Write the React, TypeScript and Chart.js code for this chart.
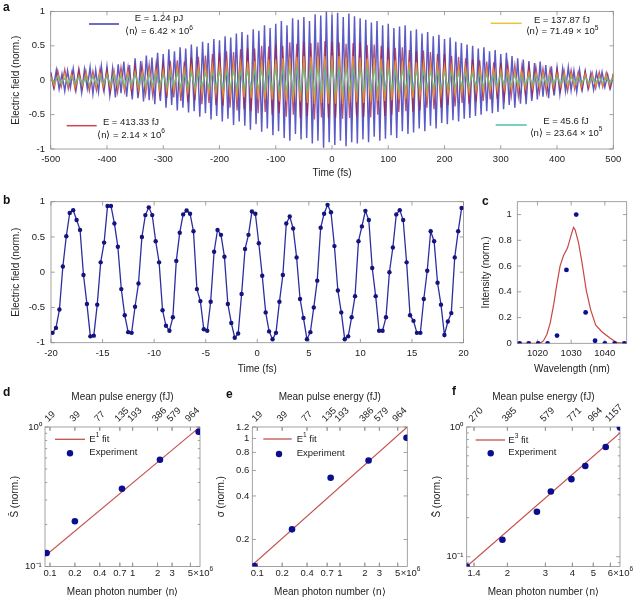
import React, { useEffect, useRef } from 'react';
import { Chart, registerables } from 'chart.js';

Chart.register(...registerables);

const FONT = '"Liberation Sans", Arial, Helvetica, sans-serif';
Chart.defaults.font.family = FONT;
Chart.defaults.color = '#222';

// ---------------- Panel a : electric field traces ----------------
const A_T0 = -500;
const A_BLUE_DT = 5;
const A_BLUE = [
  0.12, -0.10, 0.15, -0.13, 0.09, -0.16, 0.14, -0.11, 0.17, -0.14,
  0.13, -0.18, 0.16, -0.12, 0.19, -0.20, 0.15, -0.17, 0.21, -0.15,
  0.20, -0.22, 0.17, -0.25, 0.23, -0.19, 0.27, -0.24, 0.22, -0.28,
  0.32, -0.26, 0.28, -0.31, 0.36, -0.29, 0.33, -0.35, 0.40, -0.30,
  0.38, -0.40, 0.45, -0.36, 0.42, -0.44, 0.48, -0.40, 0.46, -0.47,
  0.52, -0.45, 0.49, -0.53, 0.56, -0.48, 0.54, -0.57, 0.60, -0.52,
  0.58, -0.60, 0.64, -0.56, 0.62, -0.65, 0.68, -0.60, 0.70, -0.66,
  0.66, -0.72, 0.74, -0.64, 0.72, -0.75, 0.80, -0.70, 0.76, -0.80,
  0.82, -0.74, 0.86, -0.84, 0.80, -0.88, 0.90, -0.78, 0.88, -0.86,
  0.92, -0.84, 0.86, -0.92, 0.96, -0.88, 0.94, -0.98, 1.00, -0.90,
  0.95, -0.94, 0.98, -0.88, 0.92, -0.96, 0.97, -0.90, 0.93, -0.92,
  0.90, -0.86, 0.88, -0.90, 0.84, -0.82, 0.86, -0.88, 0.80, -0.85,
  0.82, -0.80, 0.76, -0.84, 0.78, -0.74, 0.80, -0.78, 0.72, -0.76,
  0.74, -0.70, 0.68, -0.74, 0.70, -0.66, 0.64, -0.70, 0.66, -0.62,
  0.60, -0.64, 0.62, -0.58, 0.56, -0.60, 0.54, -0.56, 0.52, -0.55,
  0.50, -0.52, 0.46, -0.50, 0.48, -0.45, 0.42, -0.48, 0.44, -0.46,
  0.38, -0.42, 0.40, -0.36, 0.35, -0.40, 0.32, -0.34, 0.30, -0.35,
  0.28, -0.30, 0.25, -0.28, 0.27, -0.24, 0.22, -0.26, 0.20, -0.22,
  0.18, -0.20, 0.17, -0.16, 0.19, -0.15, 0.14, -0.17, 0.15, -0.13,
  0.13, -0.12, 0.10, -0.14, 0.11, -0.09, 0.12, -0.10, 0.08, -0.11,
  0.07,
];
const A_OTHER_DT = 6.25;
const A_RED = [
  0.10, -0.12, 0.14, -0.10, 0.16, -0.13, 0.12, -0.15, 0.17, -0.12, 0.14, -0.16, 0.13, -0.15, 0.16, -0.14,
  0.15, -0.17, 0.14, -0.18, 0.19, -0.16, 0.20, -0.18, 0.21, -0.19, 0.22, -0.20, 0.23, -0.22, 0.25, -0.21,
  0.24, -0.26, 0.28, -0.25, 0.29, -0.30, 0.27, -0.32, 0.33, -0.29, 0.34, -0.35, 0.36, -0.33, 0.38, -0.36,
  0.40, -0.37, 0.42, -0.40, 0.41, -0.44, 0.45, -0.42, 0.47, -0.45, 0.46, -0.48, 0.50, -0.46, 0.49, -0.50,
  0.52, -0.48, 0.50, -0.53, 0.55, -0.50, 0.53, -0.55, 0.56, -0.52, 0.54, -0.57, 0.55, -0.54, 0.57, -0.55,
  0.56, -0.54, 0.55, -0.56, 0.53, -0.55, 0.54, -0.52, 0.55, -0.53, 0.51, -0.54, 0.52, -0.50, 0.50, -0.52,
  0.48, -0.50, 0.47, -0.46, 0.48, -0.45, 0.44, -0.46, 0.42, -0.44, 0.43, -0.40, 0.41, -0.42, 0.38, -0.40,
  0.38, -0.36, 0.35, -0.38, 0.34, -0.33, 0.32, -0.34, 0.30, -0.31, 0.29, -0.30, 0.27, -0.28, 0.26, -0.27,
  0.25, -0.26, 0.24, -0.23, 0.22, -0.24, 0.21, -0.20, 0.20, -0.21, 0.19, -0.18, 0.17, -0.19, 0.16, -0.17,
  0.16, -0.15, 0.14, -0.16, 0.15, -0.13, 0.12, -0.14, 0.13, -0.12, 0.11, -0.12, 0.12, -0.10, 0.11, -0.12,
  0.10,
];
const A_YELLOW = [
  0.06, -0.08, 0.07, -0.06, 0.09, -0.07, 0.08, -0.10, 0.07, -0.08, 0.10, -0.09, 0.08, -0.10, 0.11, -0.09,
  0.10, -0.11, 0.12, -0.10, 0.11, -0.13, 0.12, -0.11, 0.13, -0.14, 0.12, -0.13, 0.15, -0.13, 0.14, -0.15,
  0.15, -0.16, 0.17, -0.15, 0.18, -0.17, 0.16, -0.18, 0.19, -0.17, 0.20, -0.19, 0.21, -0.20, 0.22, -0.21,
  0.22, -0.23, 0.24, -0.22, 0.25, -0.24, 0.26, -0.25, 0.27, -0.26, 0.28, -0.27, 0.29, -0.28, 0.30, -0.28,
  0.30, -0.31, 0.32, -0.30, 0.33, -0.32, 0.34, -0.31, 0.35, -0.33, 0.34, -0.34, 0.36, -0.33, 0.35, -0.34,
  0.36, -0.34, 0.35, -0.35, 0.34, -0.33, 0.35, -0.32, 0.33, -0.33, 0.32, -0.31, 0.33, -0.30, 0.31, -0.30,
  0.30, -0.29, 0.29, -0.28, 0.28, -0.27, 0.27, -0.26, 0.26, -0.25, 0.25, -0.24, 0.24, -0.23, 0.23, -0.22,
  0.22, -0.21, 0.21, -0.20, 0.20, -0.19, 0.19, -0.18, 0.18, -0.17, 0.17, -0.17, 0.16, -0.16, 0.16, -0.15,
  0.15, -0.14, 0.14, -0.14, 0.13, -0.13, 0.13, -0.12, 0.12, -0.12, 0.11, -0.11, 0.11, -0.10, 0.10, -0.10,
  0.10, -0.09, 0.10, -0.09, 0.09, -0.10, 0.08, -0.09, 0.09, -0.08, 0.08, -0.09, 0.07, -0.08, 0.08, -0.07,
  0.07,
];
const A_TEAL = [
  0.04, -0.03, 0.05, -0.04, 0.03, -0.05, 0.04, -0.04, 0.05, -0.05, 0.04, -0.06, 0.05, -0.05, 0.06, -0.05,
  0.06, -0.05, 0.07, -0.06, 0.06, -0.07, 0.07, -0.06, 0.08, -0.07, 0.07, -0.08, 0.08, -0.07, 0.09, -0.08,
  0.08, -0.09, 0.09, -0.08, 0.10, -0.09, 0.09, -0.10, 0.10, -0.10, 0.11, -0.10, 0.10, -0.11, 0.11, -0.11,
  0.12, -0.11, 0.12, -0.12, 0.13, -0.12, 0.12, -0.13, 0.13, -0.13, 0.14, -0.13, 0.14, -0.14, 0.15, -0.14,
  0.15, -0.15, 0.16, -0.15, 0.16, -0.16, 0.17, -0.16, 0.17, -0.16, 0.17, -0.17, 0.18, -0.17, 0.17, -0.17,
  0.18, -0.17, 0.17, -0.17, 0.17, -0.16, 0.17, -0.16, 0.16, -0.16, 0.16, -0.15, 0.16, -0.15, 0.15, -0.15,
  0.15, -0.14, 0.14, -0.14, 0.14, -0.13, 0.14, -0.13, 0.13, -0.13, 0.13, -0.12, 0.12, -0.12, 0.12, -0.11,
  0.11, -0.11, 0.11, -0.10, 0.10, -0.10, 0.10, -0.09, 0.09, -0.09, 0.09, -0.09, 0.08, -0.08, 0.08, -0.08,
  0.08, -0.07, 0.07, -0.07, 0.07, -0.07, 0.06, -0.06, 0.06, -0.06, 0.06, -0.06, 0.05, -0.05, 0.05, -0.05,
  0.05, -0.05, 0.05, -0.04, 0.04, -0.04, 0.04, -0.04, 0.04, -0.04, 0.04, -0.03, 0.04, -0.03, 0.03, -0.04,
  0.03,
];
const A_X_TICKS = [-500, -400, -300, -200, -100, 0, 100, 200, 300, 400, 500];
const A_Y_TICKS = [-1, -0.5, 0, 0.5, 1];
const A_ENERGIES = ['E = 1.24 pJ', 'E = 413.33 fJ', 'E = 137.87 fJ', 'E = 45.6 fJ'];
const A_PHOTONS = ['⟨n⟩ = 6.42 × 10', '⟨n⟩ = 2.14 × 10', '⟨n⟩ = 71.49 × 10', '⟨n⟩ = 23.64 × 10'];
const A_PHOTON_EXP = ['6', '6', '5', '5'];

// ---------------- Panel b : sampled field ----------------
const B_T0 = -19.85;
const B_DT = 1 / 3;
const B_FIELD = [
  -0.86, -0.79, -0.53, 0.08, 0.51, 0.84, 0.88, 0.74, 0.60, -0.04,
  -0.45, -0.91, -0.90, -0.46, 0.14, 0.42, 0.94, 0.94, 0.69, 0.36,
  -0.24, -0.61, -0.85, -0.86, -0.49, -0.16, 0.50, 0.81, 0.92, 0.81,
  0.44, 0.14, -0.54, -0.76, -0.83, -0.64, 0.16, 0.56, 0.82, 0.875,
  0.83, 0.58, -0.24, -0.41, -0.81, -0.83, -0.42, 0.29, 0.60, 0.53,
  0.22, -0.45, -0.72, -0.93, -0.87, -0.31, 0.33, 0.53, 0.86, 0.83,
  0.41, -0.05, -0.57, -0.84, -0.95, -0.86, -0.42, -0.04, 0.69, 0.79,
  0.62, 0.21, -0.38, -0.65, -0.95, -0.85, -0.50, -0.12, 0.63, 0.83,
  0.955, 0.85, 0.37, -0.26, -0.57, -0.95, -0.91, -0.64, -0.34, 0.44,
  0.65, 0.87, 0.74, 0.06, -0.34, -0.83, -0.83, -0.64, 0.00, 0.35,
  0.82, 0.88, 0.74, 0.14, -0.61, -0.69, -0.86, -0.86, -0.38, 0.02,
  0.58, 0.44, -0.15, -0.46, -0.89, -0.70, -0.58, 0.21, 0.58, 0.91,
];
const B_X_TICKS = [-20, -15, -10, -5, 0, 5, 10, 15, 20];
const B_Y_TICKS = [-1, -0.5, 0, 0.5, 1];

// ---------------- Panel c : spectrum ----------------
const C_DOT_WL = [1014.7, 1017.4, 1020.2, 1023.0, 1025.8, 1028.6, 1031.5, 1034.3, 1037.1, 1040.0, 1042.9, 1045.8];
const C_DOT_INT = [0, 0, 0, 0, 0.06, 0.57, 1.0, 0.24, 0.02, 0, 0, 0];
const C_CURVE_WL = [1014, 1018, 1020.8, 1021.8, 1022.8, 1023.8, 1024.8, 1025.7, 1026.7, 1027.7, 1028.9, 1030.0, 1030.7, 1031.2, 1032.2, 1033.2, 1034.5, 1035.8, 1037.3, 1039.1, 1041.6, 1043.6, 1046.5];
const C_CURVE_INT = [0, 0, 0, 0.02, 0.07, 0.16, 0.30, 0.45, 0.60, 0.68, 0.74, 0.84, 0.90, 0.88, 0.78, 0.63, 0.41, 0.26, 0.14, 0.09, 0.04, 0.005, 0];
const C_X_TICKS = [1020, 1030, 1040];
const C_Y_TICKS = [0, 0.2, 0.4, 0.6, 0.8, 1];

// ---------------- Panel d ----------------
const D_PHOTON = [0.091, 0.2, 0.743, 2.14, 6.29];
const D_SIGNAL = [0.125, 0.211, 0.361, 0.583, 0.925];
const D_FIT_PHOTON = [0.087, 6.5];
const D_FIT_SIGNAL = [0.119, 1.0];
const DE_X_TICKS = [0.1, 0.2, 0.4, 0.7, 1, 2, 3, 5];
const DE_X_LABELS = ['0.1', '0.2', '0.4', '0.7', '1', '2', '3', '5'];
const DE_ENERGY_LABELS = ['19', '39', '77', '135', '193', '386', '579', '964'];
const D_Y_TICKS = [0.1, 0.2, 0.3, 0.4, 0.5, 0.6, 0.7, 0.8, 0.9, 1];

// ---------------- Panel e ----------------
const E_PHOTON = [0.092, 0.263, 0.772, 2.22, 6.39];
const E_SIGMA = [0.131, 0.235, 0.534, 0.704, 1.01];
const E_FIT_PHOTON = [0.087, 6.5];
const E_FIT_SIGMA = [0.133, 1.2];
const E_Y_TICKS = [0.2, 0.4, 0.6, 0.8, 1, 1.2];

// ---------------- Panel f ----------------
const F_PHOTON = [1.295, 1.896, 2.74, 3.18, 3.96, 4.59, 5.71, 6.65];
const F_SIGNAL = [0.084, 0.135, 0.222, 0.318, 0.396, 0.501, 0.702, 0.99];
const F_FIT_PHOTON = [1.295, 6.65];
const F_FIT_SIGNAL = [0.084, 0.9];
const F_X_TICKS = [1.4, 2, 3, 4, 5, 6];
const F_X_LABELS = ['1.4', '2', '3', '4', '5', '6'];
const F_ENERGY_LABELS = ['270', '385', '579', '771', '964', '1157'];
const F_Y_TICKS = [0.09, 0.1, 0.2, 0.3, 0.4, 0.5, 0.6, 0.7, 0.8, 0.9, 1];

// ---------------- styles ----------------
const INK = '#222';
const FRAME = '#8c8c8c';
const TICK_SIZE = 9.5;
const TITLE_SIZE = 10;
const DOT = '#0a0f8f';
const FIT = 'rgb(196,80,80)';
const SERIES_COLORS = ['rgba(50,50,185,0.8)', 'rgba(160,30,75,0.75)', 'rgba(238,150,35,0.85)', 'rgba(95,190,135,0.9)'];
const SERIES_WIDTHS = [1.45, 1.3, 1.2, 1.2];
const LEGEND_COLORS = ['#3b3bb3', '#cf4552', '#e8c43c', '#4bbfae'];

const seq = (t0: number, dt: number, vals: number[]) => vals.map((v, i) => ({ x: t0 + i * dt, y: v }));
const zip = (xs: number[], ys: number[]) => xs.map((x, i) => ({ x, y: ys[i] }));
const logLabel = (v: number) => (v === 1 ? '10⁰' : v === 0.1 ? '10⁻¹' : '');

function axis(spec: any) {
  const { type = 'linear', position, min, max, ticks, labels, pad, size, title, titlePad, rotation = 0, labelOffset = 0 } = spec;
  return {
    type,
    position,
    min,
    max,
    bounds: 'data',
    grid: { display: false, drawTicks: false },
    border: { display: false },
    afterBuildTicks: (s: any) => {
      s.ticks = ticks.map((v: number) => ({ value: v }));
    },
    afterFit: (s: any) => {
      if (position === 'top' || position === 'bottom') s.height = size;
      else s.width = size;
    },
    ticks: {
      autoSkip: false,
      minRotation: rotation,
      maxRotation: rotation,
      padding: pad,
      labelOffset,
      color: INK,
      font: { size: TICK_SIZE },
      callback: (v: number, i: number) => (labels ? labels(v, i) : String(v)),
    },
    title: title
      ? { display: true, text: title, color: INK, font: { size: TITLE_SIZE }, padding: titlePad }
      : { display: false },
  };
}

const framePlugin = {
  id: 'frame',
  beforeDatasetsDraw(chart: any) {
    const { ctx, chartArea: a } = chart;
    ctx.save();
    ctx.strokeStyle = FRAME;
    ctx.lineWidth = 0.8;
    ctx.strokeRect(a.left, a.top, a.right - a.left, a.bottom - a.top);
    Object.values(chart.scales).forEach((s: any) => {
      s.ticks.forEach((t: any) => {
        const L = t.label === '' ? 2.2 : 3.8;
        const p = s.getPixelForValue(t.value);
        ctx.beginPath();
        if (s.isHorizontal()) {
          if (p < a.left - 0.5 || p > a.right + 0.5) return;
          ctx.moveTo(p, a.bottom);
          ctx.lineTo(p, a.bottom - L);
          ctx.moveTo(p, a.top);
          ctx.lineTo(p, a.top + L);
        } else {
          if (p < a.top - 0.5 || p > a.bottom + 0.5) return;
          ctx.moveTo(a.left, p);
          ctx.lineTo(a.left + L, p);
          ctx.moveTo(a.right, p);
          ctx.lineTo(a.right - L, p);
        }
        ctx.stroke();
      });
    });
    ctx.restore();
  },
};

function drawRich(ctx: any, parts: [string, boolean][], x: number, y: number, size: number, align: string) {
  const norm = `${size}px ${FONT}`;
  const small = `${(size * 0.7).toFixed(1)}px ${FONT}`;
  let total = 0;
  parts.forEach(([t, sup]) => {
    ctx.font = sup ? small : norm;
    total += ctx.measureText(t).width;
  });
  let cx = align === 'center' ? x - total / 2 : x;
  ctx.textAlign = 'left';
  ctx.textBaseline = 'middle';
  parts.forEach(([t, sup]) => {
    ctx.font = sup ? small : norm;
    ctx.fillText(t, cx, sup ? y - size * 0.42 : y);
    cx += ctx.measureText(t).width;
  });
}

const A_LEGEND_POS = [
  { x1: 89, x2: 119, ly: 24, cx: 159, y1: 18.3, y2: 31.7 },
  { x1: 66.7, x2: 96.7, ly: 125.7, cx: 131, y1: 122.3, y2: 135 },
  { x1: 490.7, x2: 521.7, ly: 23.3, cx: 562, y1: 20, y2: 31.7 },
  { x1: 495.7, x2: 526.7, ly: 125, cx: 566, y1: 121.7, y2: 133.3 },
];

const legendA = {
  id: 'legendA',
  afterDraw(chart: any) {
    const ctx = chart.ctx;
    ctx.save();
    A_LEGEND_POS.forEach((p, i) => {
      ctx.strokeStyle = LEGEND_COLORS[i];
      ctx.lineWidth = 1.5;
      ctx.beginPath();
      ctx.moveTo(p.x1, p.ly);
      ctx.lineTo(p.x2, p.ly);
      ctx.stroke();
      ctx.fillStyle = INK;
      drawRich(ctx, [[A_ENERGIES[i], false]], p.cx, p.y1, 9.5, 'center');
      drawRich(ctx, [[A_PHOTONS[i], false], [A_PHOTON_EXP[i], true]], p.cx, p.y2, 9.5, 'center');
    });
    ctx.restore();
  },
};

function fitLegend(cfg: any) {
  return {
    id: 'fitLegend',
    afterDraw(chart: any) {
      const ctx = chart.ctx;
      ctx.save();
      ctx.strokeStyle = FIT;
      ctx.lineWidth = 1.3;
      ctx.beginPath();
      ctx.moveTo(cfg.x1, cfg.y1);
      ctx.lineTo(cfg.x2, cfg.y1);
      ctx.stroke();
      ctx.fillStyle = DOT;
      ctx.beginPath();
      ctx.arc(cfg.dotX, cfg.y2, 3.2, 0, Math.PI * 2);
      ctx.fill();
      ctx.fillStyle = INK;
      drawRich(ctx, [['E', false], [cfg.sup, true], [' fit', false]], cfg.textX, cfg.y1, 9.5, 'left');
      drawRich(ctx, [['Experiment', false]], cfg.textX, cfg.y2 - 1, 9.5, 'left');
      ctx.restore();
    },
  };
}

function expLabel(value: number, sup: string, dy: number) {
  return {
    id: 'expLabel',
    afterDraw(chart: any) {
      const s = chart.scales.x;
      const t = s.ticks.find((k: any) => k.value === value);
      if (!t) return;
      const ctx = chart.ctx;
      ctx.save();
      ctx.font = `${TICK_SIZE}px ${FONT}`;
      const w = ctx.measureText(String(t.label)).width;
      ctx.fillStyle = INK;
      drawRich(ctx, [['×10', false], [sup, true]], s.getPixelForValue(value) + w / 2 + 0.3, chart.chartArea.bottom + dy, TICK_SIZE, 'left');
      ctx.restore();
    },
  };
}

const baseOptions = (padding: any) => ({
  animation: false,
  responsive: false,
  events: [],
  layout: { padding },
  plugins: { legend: { display: false }, tooltip: { enabled: false } },
});

const buildA = () => ({
  type: 'line',
  data: {
    datasets: [
      { data: seq(A_T0, A_OTHER_DT, A_TEAL), borderColor: SERIES_COLORS[3], borderWidth: SERIES_WIDTHS[3], order: 1 },
      { data: seq(A_T0, A_OTHER_DT, A_YELLOW), borderColor: SERIES_COLORS[2], borderWidth: SERIES_WIDTHS[2], order: 2 },
      { data: seq(A_T0, A_OTHER_DT, A_RED), borderColor: SERIES_COLORS[1], borderWidth: SERIES_WIDTHS[1], order: 3 },
      { data: seq(A_T0, A_BLUE_DT, A_BLUE), borderColor: SERIES_COLORS[0], borderWidth: SERIES_WIDTHS[0], order: 4 },
    ].map((d) => ({ ...d, pointRadius: 0 })),
  },
  options: {
    ...baseOptions({ left: 0, top: 7.3, right: 25.7, bottom: 0 }),
    scales: {
      x: axis({ position: 'bottom', min: -500, max: 500, ticks: A_X_TICKS, pad: 4.3, size: 37, title: 'Time (fs)', titlePad: { top: 0, bottom: 6.5 } }),
      y: axis({ position: 'left', min: -1, max: 1, ticks: A_Y_TICKS, pad: 5.7, size: 50.7, title: 'Electric field (norm.)', titlePad: { top: 10, bottom: 0 } }),
    },
  },
  plugins: [framePlugin, legendA],
});

const buildB = () => ({
  type: 'line',
  data: {
    datasets: [
      {
        data: seq(B_T0, B_DT, B_FIELD),
        borderColor: 'rgb(45,45,160)',
        borderWidth: 1.3,
        pointRadius: 2.2,
        pointBackgroundColor: '#14147f',
        pointBorderWidth: 0,
      },
    ],
  },
  options: {
    ...baseOptions({ left: 0, top: 11.7, right: 11.5, bottom: 0 }),
    scales: {
      x: axis({ position: 'bottom', min: -20, max: 20, ticks: B_X_TICKS, pad: 4.9, size: 37.3, title: 'Time (fs)', titlePad: { top: 0, bottom: 5 } }),
      y: axis({ position: 'left', min: -1, max: 1, ticks: B_Y_TICKS, pad: 6, size: 51, title: 'Electric field (norm.)', titlePad: { top: 10, bottom: 0 } }),
    },
  },
  plugins: [framePlugin],
});

const buildC = () => ({
  type: 'line',
  data: {
    datasets: [
      { data: zip(C_DOT_WL, C_DOT_INT), showLine: false, pointRadius: 2.4, pointBackgroundColor: DOT, pointBorderWidth: 0, borderColor: DOT },
      { data: zip(C_CURVE_WL, C_CURVE_INT), borderColor: 'rgb(200,70,70)', borderWidth: 1.2, pointRadius: 0 },
    ],
  },
  options: {
    ...baseOptions({ left: 0, top: 11.7, right: 12.3, bottom: 0 }),
    scales: {
      x: axis({ position: 'bottom', min: 1014, max: 1046.5, ticks: C_X_TICKS, pad: 4.3, size: 36.7, title: 'Wavelength (nm)', titlePad: { top: 0, bottom: 5 } }),
      y: axis({ position: 'left', min: 0, max: 1.1, ticks: C_Y_TICKS, pad: 5.6, size: 57.3, title: 'Intensity (norm.)', titlePad: { top: 20.7, bottom: 0 } }),
    },
  },
  plugins: [framePlugin],
});

function buildLog(p: any) {
  return () => ({
    type: 'line',
    data: {
      datasets: [
        { data: zip(p.px, p.py), showLine: false, pointRadius: 3.3, pointBackgroundColor: DOT, pointBorderWidth: 0, borderColor: DOT },
        { data: zip(p.fx, p.fy), borderColor: FIT, borderWidth: 1.1, pointRadius: 0 },
      ],
    },
    options: {
      ...baseOptions({ left: 0, top: 0, right: p.padR, bottom: 0 }),
      scales: {
        x: axis({ type: 'logarithmic', position: 'bottom', min: p.xmin, max: p.xmax, ticks: p.xTicks, labels: (v: number, i: number) => p.xLabels[i], pad: 1.3, size: 34.5, title: 'Mean photon number ⟨n⟩', titlePad: { top: 0, bottom: 2.5 } }),
        xTop: axis({ type: 'logarithmic', position: 'top', min: p.xmin, max: p.xmax, ticks: p.xTicks, labels: (v: number, i: number) => p.topLabels[i], pad: 2.5, labelOffset: 4.5, size: 37, rotation: 45, title: 'Mean pulse energy (fJ)', titlePad: { top: 1.5, bottom: 0 } }),
        y: axis({ type: 'logarithmic', position: 'left', min: p.ymin, max: p.ymax, ticks: p.yTicks, labels: p.yLabels, pad: p.yPad, size: p.yW, title: p.yTitle, titlePad: { top: p.yTitlePad, bottom: 0 } }),
      },
    },
    plugins: [framePlugin, fitLegend(p.legend), expLabel(p.lastTick, '6', 7)],
  });
}

const buildD = buildLog({
  px: D_PHOTON, py: D_SIGNAL, fx: D_FIT_PHOTON, fy: D_FIT_SIGNAL,
  xmin: 0.087, xmax: 6.53, ymin: 0.1, ymax: 1,
  xTicks: DE_X_TICKS, xLabels: DE_X_LABELS, topLabels: DE_ENERGY_LABELS,
  yTicks: D_Y_TICKS, yLabels: logLabel, yPad: 3.3, yW: 45, yTitle: 'S\u0304 (norm.)', yTitlePad: 9,
  padR: 15, lastTick: 5,
  legend: { x1: 55, x2: 85, y1: 49.3, textX: 89.3, dotX: 70, y2: 63.3, sup: '1' },
});

const buildE = buildLog({
  px: E_PHOTON, py: E_SIGMA, fx: E_FIT_PHOTON, fy: E_FIT_SIGMA,
  xmin: 0.087, xmax: 6.53, ymin: 0.13, ymax: 1.2,
  xTicks: DE_X_TICKS, xLabels: DE_X_LABELS, topLabels: DE_ENERGY_LABELS,
  yTicks: E_Y_TICKS, yLabels: (v: number) => String(v), yPad: 3, yW: 42.3, yTitle: 'σ (norm.)', yTitlePad: 5.7,
  padR: 17.7, lastTick: 5,
  legend: { x1: 53.3, x2: 81.7, y1: 49, textX: 86.7, dotX: 69, y2: 64, sup: '1' },
});

const buildF = buildLog({
  px: F_PHOTON, py: F_SIGNAL, fx: F_FIT_PHOTON, fy: F_FIT_SIGNAL,
  xmin: 1.295, xmax: 6.65, ymin: 0.084, ymax: 1,
  xTicks: F_X_TICKS, xLabels: F_X_LABELS, topLabels: F_ENERGY_LABELS,
  yTicks: F_Y_TICKS, yLabels: logLabel, yPad: 3.4, yW: 42.7, yTitle: 'S\u0304 (norm.)', yTitlePad: 7.3,
  padR: 19, lastTick: 6,
  legend: { x1: 51.7, x2: 81, y1: 50, textX: 84.3, dotX: 66.7, y2: 63.3, sup: '3' },
});

function Panel({ left, top, width, height, build }: any) {
  const ref = useRef<HTMLCanvasElement | null>(null);
  useEffect(() => {
    const chart = new Chart(ref.current as HTMLCanvasElement, build() as any);
    return () => chart.destroy();
  }, [build]);
  return (
    <div style={{ position: 'absolute', left, top, width, height }}>
      <canvas ref={ref} width={width} height={height} style={{ display: 'block', width, height }} />
    </div>
  );
}

const LETTER_STYLE: any = {
  position: 'absolute',
  font: `bold 12px ${FONT}`,
  lineHeight: '12px',
  color: '#111',
};

export default function App() {
  return (
    <div style={{ position: 'absolute', left: 0, top: 0, width: 639, height: 601, background: '#fff', overflow: 'hidden' }}>
      <Panel left={0} top={0} width={639} height={186} build={buildA} />
      <Panel left={0} top={190} width={475} height={190} build={buildB} />
      <Panel left={460} top={190} width={179} height={190} build={buildC} />
      <Panel left={0} top={390} width={215} height={211} build={buildD} />
      <Panel left={210} top={390} width={215} height={211} build={buildE} />
      <Panel left={424} top={390} width={215} height={211} build={buildF} />
      <div style={{ ...LETTER_STYLE, left: 3, top: 1 }}>a</div>
      <div style={{ ...LETTER_STYLE, left: 3, top: 193.5 }}>b</div>
      <div style={{ ...LETTER_STYLE, left: 482, top: 194.5 }}>c</div>
      <div style={{ ...LETTER_STYLE, left: 3, top: 385.5 }}>d</div>
      <div style={{ ...LETTER_STYLE, left: 226, top: 387.5 }}>e</div>
      <div style={{ ...LETTER_STYLE, left: 452, top: 384.5 }}>f</div>
    </div>
  );
}
